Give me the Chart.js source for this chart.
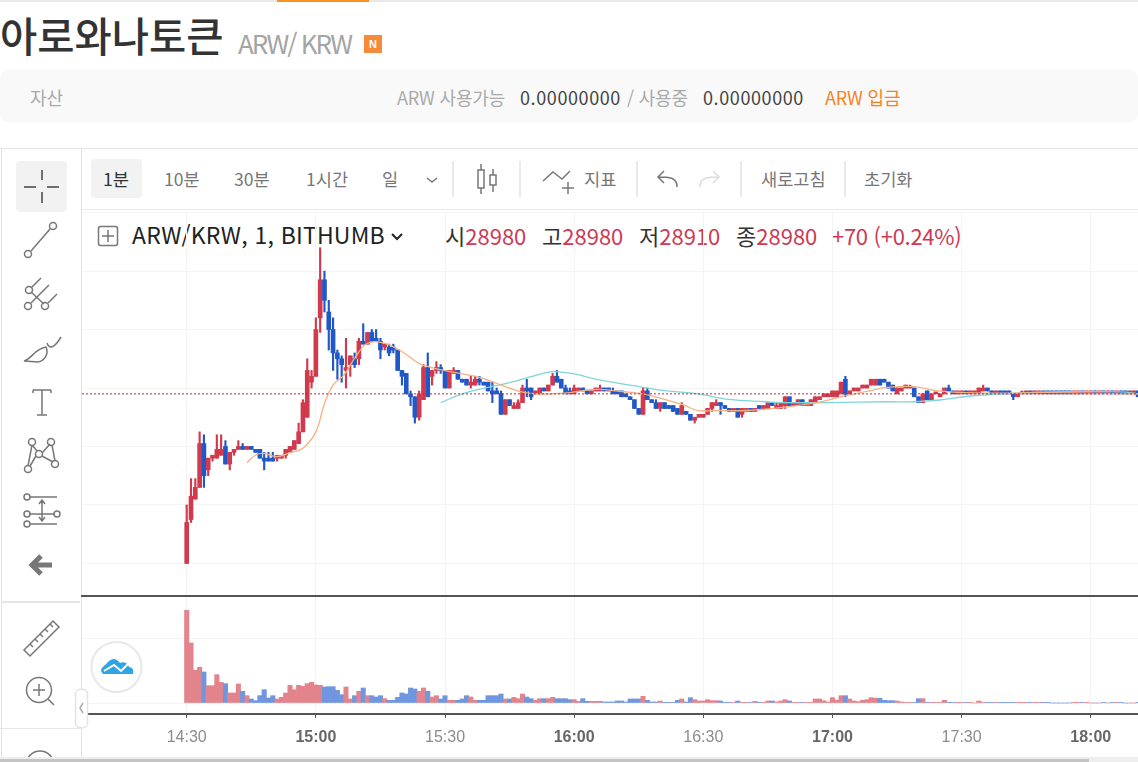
<!DOCTYPE html>
<html lang="ko">
<head>
<meta charset="utf-8">
<title>ARW/KRW</title>
<script src="https://cdn.jsdelivr.net/npm/chart.js@4"></script>
<style>
  html, body { margin: 0; padding: 0; background: #fff; }
  body { width: 1138px; height: 762px; overflow: hidden; position: relative;
         font-family: 'Noto Sans CJK KR', 'Noto Sans', sans-serif; }
  .t { position: absolute; white-space: nowrap; line-height: 1; }
  .box { position: absolute; }
  canvas { position: absolute; display: block; }
  #icons { position: absolute; left: 0; top: 0; }
  #icons * { fill: none; stroke: #777; stroke-width: 1.5; }
  .gray { color: #a9a9a9; }
  .dark { color: #444; }
  .tool { color: #777; font-size: 17.6px; top: 170px; }
  .leg { font-size: 22px; top: 224px; color: #333; }
  .red { color: #cc3a55; }
</style>
</head>
<body>
<!-- page header -->
<div class="box" style="left:0;top:0;width:1138px;height:2px;background:#e8e8e8"></div>
<div class="box" style="left:277px;top:0;width:92px;height:2px;background:#f7931e"></div>
<div class="t" style="left:0;top:15px;font-size:40.5px;font-weight:500;color:#333">아로와나토큰</div>
<div class="t" style="left:238px;top:30px;font-size:26px;letter-spacing:-2px;color:#a4a4a4">ARW/ KRW</div>
<div class="box" style="left:364px;top:35px;width:18px;height:18px;background:#f58a3b;color:#fff;font:bold 11px 'Liberation Sans';text-align:center;line-height:18px">N</div>

<div class="box" style="left:0;top:69px;width:1138px;height:54px;background:#f9f9f9;border-radius:10px"></div>
<div class="t gray" style="left:30px;top:88px;font-size:18px">자산</div>
<div class="t gray" style="left:397px;top:88px;font-size:18px;letter-spacing:-.2px">ARW 사용가능</div>
<div class="t dark" style="left:520px;top:88px;font-size:18px;letter-spacing:.6px">0.00000000</div>
<div class="t gray" style="left:627px;top:88px;font-size:18px;letter-spacing:-.2px">/ 사용중</div>
<div class="t dark" style="left:703px;top:88px;font-size:18px;letter-spacing:.6px">0.00000000</div>
<div class="t" style="left:825px;top:88px;font-size:18px;letter-spacing:-.2px;color:#f58220">ARW 입금</div>

<!-- toolbar frame -->
<div class="box" style="left:0;top:148px;width:1138px;height:1px;background:#e4e4e4"></div>
<div class="box" style="left:81px;top:209px;width:1057px;height:1px;background:#e9e9e9"></div>
<div class="box" style="left:1px;top:148px;width:1px;height:614px;background:#e4e4e4"></div>
<div class="box" style="left:81px;top:148px;width:1px;height:614px;background:#e4e4e4"></div>
<div class="box" style="left:2px;top:601px;width:78px;height:2px;background:#e4e4ee"></div>
<div class="box" style="left:0;top:728px;width:81px;height:1px;background:#e4e4e4"></div>
<div class="box" style="left:16px;top:161px;width:51px;height:51px;background:#f2f2f2;border-radius:4px"></div>
<div class="box" style="left:91px;top:159px;width:51px;height:39px;background:#f2f2f2;border-radius:4px"></div>
<div class="t tool" style="left:103px;color:#333">1분</div>
<div class="t tool" style="left:164px">10분</div>
<div class="t tool" style="left:234px">30분</div>
<div class="t tool" style="left:306px">1시간</div>
<div class="t tool" style="left:382px">일</div>
<div class="t tool" style="left:584px">지표</div>
<div class="t tool" style="left:761px">새로고침</div>
<div class="t tool" style="left:864px">초기화</div>

<!-- symbol legend -->
<div class="t" style="left:132px;top:223px;font-size:23px;color:#222;letter-spacing:.2px">ARW/KRW, 1, BITHUMB</div>
<div class="t leg" style="left:445px">시<span class="red">28980</span></div>
<div class="t leg" style="left:542px">고<span class="red">28980</span></div>
<div class="t leg" style="left:639px">저<span class="red">28910</span></div>
<div class="t leg" style="left:736px">종<span class="red">28980</span></div>
<div class="t leg red" style="left:832px;letter-spacing:-.3px">+70 (+0.24%)</div>

<canvas id="priceChart" width="1056" height="383" style="left:82px;top:212px"></canvas>
<canvas id="volumeChart" width="1056" height="163" style="left:82px;top:597px"></canvas>
<div class="box" style="left:81px;top:595px;width:1057px;height:2px;background:#555"></div>

<!-- drawing tools -->
<svg id="icons" width="1138" height="762">
  <path d="M24 187h12M47 187h12M42 170v10M42 192v11" style="stroke:#444"/>
  <circle cx="28" cy="254" r="3.5"/><circle cx="53" cy="226" r="3.5"/><path d="M31 251l19-22"/>
  <circle cx="29" cy="290" r="3.5"/><circle cx="28" cy="306" r="3.5"/><circle cx="45" cy="306" r="3.5"/>
  <path d="M31 288l10-10M31 303l18-18M48 303l9-9M31 292l13 12"/>
  <path d="M24 361c8-2 10-12 22-14 3 6-1 14-8 15z"/><path d="M47 343c2 6 7 6 14-6"/>
  <path d="M33 390h18M33 390v3M51 390v3M42 390v25M37 415h10"/>
  <circle cx="32" cy="442" r="3.5"/><circle cx="51" cy="442" r="3.5"/><circle cx="39" cy="454" r="3.5"/>
  <circle cx="28" cy="469" r="3.5"/><circle cx="55" cy="464" r="3.5"/>
  <path d="M32 445l-4 21M33 446l4 5M42 453l8-9M52 445l3 16M42 456l11 6M36 456l-6 10"/>
  <circle cx="27" cy="497" r="3"/><circle cx="27" cy="514" r="3"/><circle cx="57" cy="514" r="3"/><circle cx="27" cy="524" r="3"/>
  <path d="M30 497h27M30 514h24M30 524h27M42 501v19M39 504l3-4 3 4M39 517l3 4 3-4"/>
  <path d="M32 565h20M41 556l-9 9 9 9" style="stroke:#777;stroke-width:5"/>
  <path d="M24 650l29-29 6 6-29 29zM30 644l3 3M35 639l3 3M40 634l3 3M45 629l3 3M50 624l3 3"/>
  <circle cx="39" cy="690" r="12.5"/><path d="M33 690h12M39 684v12M48 699l6 6"/>
  <circle cx="40" cy="765" r="14"/>
  <!-- top toolbar icons -->
  <path d="M427 178l5 4 5-4" />
  <path d="M453 161v36M520 161v36M637 161v36M741 161v36M845 161v36" style="stroke:#e4e4e4"/>
  <path d="M481 164v30M493 169v23"/><rect x="478" y="170" width="6" height="18" style="fill:#fff"/><rect x="490" y="175" width="6" height="10" style="fill:#fff"/>
  <path d="M543 181l10-9 9 7 8-8M568 182v12M562 188h12"/>
  <path d="M677 187c0-10-8-10-19-10M664 171l-6 6 6 6"/>
  <path d="M700 187c0-10 8-10 19-10M713 171l6 6-6 6" style="stroke:#ddd"/>
  <rect x="98.500" y="226.500" width="19" height="19" rx="2"/><path d="M108 230v12M102 236h12"/>
  <path d="M392 234l5 5 5-5" style="stroke:#222;stroke-width:2"/>
  <!-- tradingview badge -->
  <circle cx="116.500" cy="667" r="25" style="fill:#fff;stroke:#e8e8e8;stroke-width:2"/>
  <path d="M101 671c0-4 4-5 7-9 4-4 8-4 12 1 3-2 8 0 9 4 4 0 5 4 4 7h-30z" style="fill:#2fa4e7;stroke:none"/>
  <path d="M104 671l10-6 7 6 8-8" style="stroke:#fff;stroke-width:2"/>
  <rect x="75.500" y="689.500" width="12" height="38" rx="4" style="fill:#fff;stroke:#e4e4e4"/>
  <path d="M83 703l-3 5 3 5" style="stroke:#aaa"/>
</svg>

<!-- scrollbar -->
<div class="box" style="left:0;top:757px;width:1138px;height:5px;background:#eee"></div>
<div class="box" style="left:0;top:759px;width:1089px;height:3px;background:#c4c4c4"></div>

<script>
// 1 minute candles, index 0 = 14:30
const opens = [
  28400,28550,28620,28660,28810,28720,28760,28760,28770,28800,
  28740,28780,28790,28800,28790,28800,28790,28790,28760,28760,
  28760,28760,28760,28770,28780,28790,28810,28850,28900,29020,
  29040,29240,29370,29260,29200,29120,29100,29060,29080,29100,
  29100,29160,29150,29190,29170,29160,29140,29140,29140,29130,
  29060,29050,28980,28970,28900,28960,29070,29040,29060,29070,
  29060,29000,29050,29060,29030,29030,29010,29010,29030,29020,
  29020,28990,28990,28980,28910,28960,28930,28930,28950,29000,
  29000,28980,28980,29000,28990,29010,29040,29030,29000,28990,
  28980,28990,29000,28990,28980,28990,28990,29000,29000,28990,
  28990,28990,28980,28970,28960,28930,28910,28990,28960,28950,
  28930,28950,28940,28940,28930,28910,28920,28910,28890,28900,
  28900,28910,28930,28940,28950,28940,28930,28920,28930,28910,
  28920,28930,28920,28940,28930,28930,28950,28930,28930,28940,
  28970,28940,28940,28960,28940,28940,28950,28960,28970,28970,
  28970,28970,28980,29030,28980,28990,28990,29000,29000,29010,
  29010,29030,29030,29020,29010,28980,28990,29000,29000,29000,
  28970,28950,28990,28960,28980,28970,28980,29000,28990,28980,
  28980,28990,28980,28980,28980,28990,29000,28990,28980,28990,
  28990,28990,28980,28970,28980,28980,28990,28980,28980,28990,
  28990,28990,28990,28990,28990,28990,28980,28980,28990,28980,
  28980,28990,28980,28990,28980,28990,28980,28990,28990,28980,28980,28990
];
const closes = [
  28540,28630,28660,28810,28700,28760,28770,28790,28790,28740,
  28780,28790,28800,28790,28800,28790,28780,28760,28750,28750,
  28750,28770,28770,28790,28800,28820,28850,28950,29060,29040,
  29200,29370,29300,29200,29120,29100,29080,29070,29110,29080,
  29160,29150,29190,29160,29160,29130,29150,29120,29130,29060,
  29040,28980,28970,28900,28980,29070,28970,29060,29070,29060,
  29000,29060,29060,29030,29020,29010,29020,29030,29020,29010,
  28990,28980,28980,28910,28960,28940,28940,28950,29000,28990,
  28970,28990,29000,28990,29010,29040,29020,29000,28980,28980,
  29000,29000,28990,28980,28990,29000,29000,28990,28990,28980,
  28980,28970,28970,28960,28930,28910,28990,28960,28950,28930,
  28950,28930,28930,28920,28910,28940,28910,28890,28900,28910,
  28910,28930,28950,28950,28940,28930,28920,28930,28900,28930,
  28930,28920,28930,28930,28940,28950,28940,28940,28950,28970,
  28940,28950,28960,28940,28950,28960,28970,28970,28980,28980,
  28990,28990,29020,28980,28990,29000,29000,29010,29010,29030,
  29030,29010,29020,29000,28990,29000,29000,29010,29000,28970,
  28950,28980,28960,28980,28980,28980,29000,28990,28980,28990,
  28990,28980,28990,28990,29000,29000,28990,28980,28990,28980,
  28980,28980,28970,28980,28980,28990,28980,28990,28990,28980,
  28980,28980,28980,28980,28980,28980,28990,28990,28980,28990,
  28990,28980,28990,28980,28990,28980,28990,28980,28980,28990,28990,28970
];
const highs = [
  28600,28690,28690,28850,28840,28760,28770,28840,28840,28820,
  28780,28790,28820,28810,28800,28800,28790,28790,28780,28780,
  28780,28770,28770,28790,28800,28820,28880,28960,29100,29060,
  29240,29480,29400,29300,29240,29130,29110,29170,29110,29120,
  29170,29220,29190,29200,29200,29170,29150,29150,29150,29130,
  29060,29050,28990,28970,28990,29080,29120,29060,29090,29080,
  29060,29060,29070,29060,29030,29030,29040,29040,29040,29020,
  29020,29020,29000,28990,28960,28960,28950,28960,29010,29030,
  29000,28990,29000,29000,29010,29050,29060,29030,29010,29000,
  29010,29000,29000,28990,28990,29000,29010,29000,29000,29000,
  28990,28990,28980,28970,28960,28930,29000,29000,28960,28960,
  28950,28950,28940,28940,28930,28950,28920,28910,28900,28910,
  28910,28930,28950,28960,28950,28940,28930,28930,28930,28930,
  28930,28930,28930,28940,28940,28950,28950,28950,28950,28970,
  28970,28950,28960,28960,28950,28960,28970,28970,28980,28980,
  28990,28990,29020,29040,28990,29000,29000,29010,29010,29030,
  29030,29030,29030,29020,29010,29000,29000,29010,29010,29000,
  28970,28980,28990,28980,28980,28980,29000,29010,28990,28990,
  28990,28990,28990,28990,29000,29010,29000,28990,28990,28990,
  28990,28990,28980,28980,28990,28990,28990,28990,28990,28990,
  28990,28990,28990,28990,28990,28990,28990,28990,28990,28990,
  28990,28990,28990,28990,28990,28990,28990,28990,28990,28990,28990,28990
];
const lows = [
  28400,28540,28620,28660,28660,28700,28750,28760,28770,28740,
  28720,28770,28790,28790,28790,28790,28780,28760,28720,28750,
  28750,28750,28760,28760,28780,28790,28810,28850,28900,29000,
  29040,29190,29260,29130,29060,29030,29020,29000,29040,29070,
  29080,29150,29150,29160,29160,29100,29130,29110,29120,29060,
  29010,28980,28940,28880,28890,28960,28970,29010,29050,29050,
  29000,29000,29050,29030,29020,29010,29000,29010,29010,29010,
  28990,28950,28980,28910,28910,28940,28930,28930,28950,28970,
  28960,28980,28980,28990,28990,29010,29020,29000,28980,28980,
  28980,28990,28990,28980,28980,28990,28990,28990,28990,28980,
  28980,28970,28970,28960,28930,28910,28910,28960,28950,28930,
  28920,28930,28930,28920,28910,28910,28910,28890,28880,28900,
  28900,28910,28920,28940,28910,28930,28920,28920,28900,28900,
  28920,28920,28920,28930,28930,28930,28940,28930,28930,28930,
  28940,28940,28940,28940,28940,28940,28950,28960,28970,28970,
  28970,28970,28980,28970,28980,28990,28990,29000,29000,29010,
  29010,29010,29020,29000,28990,28980,28990,29000,29000,28970,
  28950,28950,28960,28960,28980,28970,28980,28990,28980,28980,
  28980,28980,28980,28980,28980,28990,28990,28980,28980,28980,
  28980,28980,28960,28970,28980,28980,28980,28980,28980,28980,
  28980,28980,28980,28980,28980,28980,28980,28980,28980,28980,
  28980,28980,28980,28980,28980,28980,28980,28980,28980,28980,28980,28970
];
const volumes = [
  278,180,98,107,93,52,52,85,62,58,
  30,30,57,35,22,12,7,22,40,15,
  22,12,17,30,53,40,53,50,58,62,
  54,53,48,49,49,38,25,48,12,22,
  35,45,22,22,18,22,13,8,8,17,
  30,27,45,42,35,45,35,18,22,12,
  22,8,8,8,12,22,18,8,8,8,
  22,22,22,27,12,12,17,13,27,18,
  13,8,13,13,13,17,13,13,13,10,
  10,5,13,5,5,5,5,3,3,3,
  6,6,3,12,12,12,20,8,3,3,
  6,2,2,2,8,12,3,16,10,6,
  6,10,7,7,6,2,2,2,6,2,
  2,2,5,2,2,6,6,3,6,10,
  6,2,2,2,2,2,12,12,7,3,
  16,8,22,22,12,6,4,8,10,16,
  14,14,8,7,7,6,3,2,2,2,
  13,13,2,2,2,2,8,2,2,2,
  2,2,2,0,6,2,2,2,2,2,
  2,2,2,2,2,2,2,2,2,2,
  2,0,0,0,0,0,2,2,2,2,
  0,0,0,2,0,2,2,2,0,0,0,2
];

const fastMinutes = [14,16,18,21,24,27,30,32,34,36.5,39,42,46,50,55,68,72,77.4,82,87.5,95,101,106,111,115.4,118.7,122.6,130,138,145.6,153,159.5,162.6,169,174,181,188,200,221];
const fastValues = [28744,28771,28776,28765,28779,28794,28850,28947,29010,29044,29101,29153,29153,29124,29078,29036,29016,28988,28980,28982,28995,28988,28980,28961,28942,28923,28923,28923,28933,28948,28973,28993,29002,29005,28991,28984,28982,28984,28980];
const slowMinutes = [59,64,70,75,80,85,90,95,103,111,118.7,126,134.5,138,149.5,162.6,169,175,181,186,200,217,221];
const slowValues = [28950,28980,29002,29018,29039,29056,29048,29030,29010,28991,28980,28961,28953,28950,28950,28953,28953,28959,28971,28977,28987,28987,28980];

const lastPrice = 28980;
const tickMinutes = [0,30,60,90,120,150,180,210];
const tickLabels = ['14:30','15:00','15:30','16:00','16:30','17:00','17:30','18:00'];
const hourLabels = ['15:00','16:00','17:00','18:00'];
const priceGrid = [28400,28600,28800,29000,29200,29400,29600];
const volumeGrid = [0,192];

const RED = '#d13a4c';
const BLUE = '#2158c8';
const VOL_RED = '#e3848d';
const VOL_BLUE = '#7096e0';
const GRID = '#f4f4f4';
const X_MIN = -24.32;
const X_MAX = 220.97;

const isUp = i => closes[i] >= opens[i];
const candleColors = opens.map((o, i) => isUp(i) ? RED : BLUE);
const volumeColors = opens.map((o, i) => isUp(i) ? VOL_RED : VOL_BLUE);

function xGrid(axis) {
  axis.ticks = tickMinutes.map(v => ({ value: v }));
}

function isHourTick(ctx) {
  return !!ctx.tick && hourLabels.includes(tickLabels[tickMinutes.indexOf(ctx.tick.value)]);
}

// upper chart: candles and moving averages
new Chart(document.getElementById('priceChart').getContext('2d'), {
  data: {
    datasets: [
      {
        type: 'line',
        data: [{ x: X_MIN, y: lastPrice }, { x: X_MAX, y: lastPrice }],
        borderColor: '#c8243c',
        borderWidth: 1,
        borderDash: [2, 2],
        pointRadius: 0,
        order: 1
      },
      {
        type: 'line',
        data: fastMinutes.map((m, i) => ({ x: m, y: fastValues[i] })),
        borderColor: '#f3b184',
        borderWidth: 1.3,
        pointRadius: 0,
        tension: 0.4,
        order: 2
      },
      {
        type: 'line',
        data: slowMinutes.map((m, i) => ({ x: m, y: slowValues[i] })),
        borderColor: '#7fd6d8',
        borderWidth: 1.3,
        pointRadius: 0,
        tension: 0.4,
        order: 3
      },
      {
        type: 'bar',
        data: opens.map((o, i) => ({ x: i, y: [o, closes[i]] })),
        backgroundColor: candleColors,
        barThickness: 4,
        minBarLength: 2,
        grouped: false,
        order: 4
      },
      {
        type: 'bar',
        data: lows.map((l, i) => ({ x: i, y: [l, highs[i]] })),
        backgroundColor: candleColors,
        barThickness: 1.5,
        grouped: false,
        order: 5
      }
    ]
  },
  options: {
    responsive: false,
    animation: false,
    devicePixelRatio: 1,
    plugins: { legend: { display: false }, tooltip: { enabled: false } },
    scales: {
      x: {
        type: 'linear',
        offset: false,
        min: X_MIN,
        max: X_MAX,
        afterBuildTicks: xGrid,
        grid: { color: GRID, offset: false, drawTicks: false },
        border: { display: false },
        ticks: { display: false }
      },
      y: {
        min: 28292,
        max: 29602,
        afterBuildTicks: axis => { axis.ticks = priceGrid.map(v => ({ value: v })); },
        grid: { color: GRID, drawTicks: false },
        border: { display: false },
        ticks: { display: false }
      }
    }
  }
});

// lower chart: volume
new Chart(document.getElementById('volumeChart').getContext('2d'), {
  type: 'bar',
  data: {
    datasets: [{
      data: volumes.map((v, i) => ({ x: i, y: v })),
      backgroundColor: volumeColors,
      barThickness: 4.4,
      grouped: false
    }]
  },
  options: {
    responsive: false,
    animation: false,
    devicePixelRatio: 1,
    plugins: { legend: { display: false }, tooltip: { enabled: false } },
    scales: {
      x: {
        type: 'linear',
        offset: false,
        min: X_MIN,
        max: X_MAX,
        afterBuildTicks: xGrid,
        afterFit: axis => { axis.height = 46; },
        grid: { color: GRID, offset: false, tickColor: '#555', tickLength: 4 },
        border: { color: '#555', width: 2 },
        ticks: {
          autoSkip: false,
          maxRotation: 0,
          padding: 10,
          callback: value => tickLabels[tickMinutes.indexOf(value)],
          color: ctx => isHourTick(ctx) ? '#666' : '#8c8c8c',
          font: ctx => ({
            size: 16,
            family: 'Liberation Sans',
            weight: isHourTick(ctx) ? 'bold' : 'normal'
          })
        }
      },
      y: {
        min: -33,
        max: 318,
        afterBuildTicks: axis => { axis.ticks = volumeGrid.map(v => ({ value: v })); },
        grid: { color: GRID, drawTicks: false },
        border: { display: false },
        ticks: { display: false }
      }
    }
  }
});
</script>
</body>
</html>
